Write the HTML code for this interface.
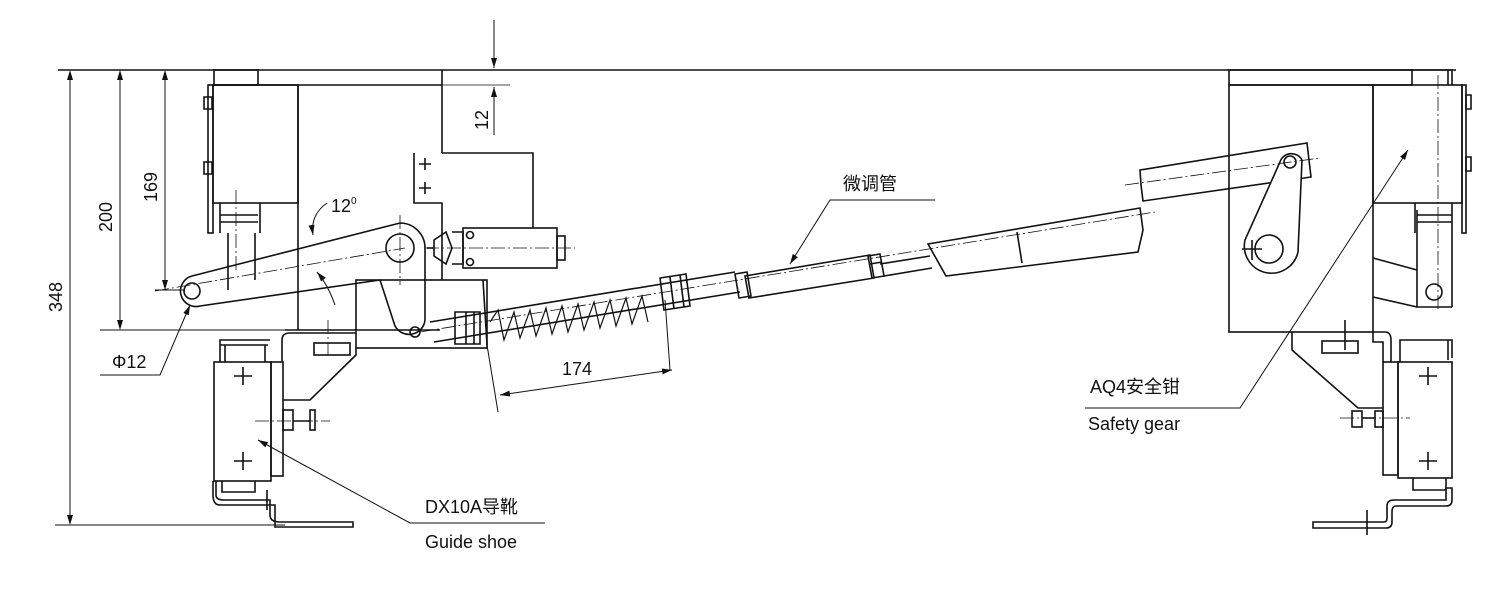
<!DOCTYPE html>
<html><head><meta charset="utf-8"><style>
html,body{margin:0;padding:0;background:#fff;}
svg{display:block;}
text{font-family:"Liberation Sans","Noto Sans CJK SC",sans-serif;fill:#111;}
</style></head><body>
<svg width="1500" height="590" viewBox="0 0 1500 590" xmlns="http://www.w3.org/2000/svg">
<defs><marker id="a" markerWidth="10" markerHeight="6" refX="10" refY="3" orient="auto-start-reverse" markerUnits="userSpaceOnUse"><path d="M0,0L10,3L0,6z" fill="#111"/></marker></defs>
<g fill="none" stroke="#111" stroke-width="1.6">
<line x1="58" y1="70" x2="1456" y2="70" stroke-width="1.4"/>
<line x1="213" y1="85" x2="442" y2="85"/>
<line x1="442" y1="85" x2="510" y2="85" stroke-width="0.8"/>
<rect x="214" y="70" width="44" height="15"/>
<rect x="213" y="85" width="85" height="118"/>
<rect x="208" y="85" width="5" height="148"/>
<path d="M204,97h8v12h-8zM204,162h8v12h-8z"/>
<line x1="442" y1="70" x2="442" y2="153"/>
<path d="M442,153H533V228M414,153V203H442V280"/>
<line x1="298" y1="85" x2="298" y2="330"/>
<path d="M220,203V233M260,203V233M220,215H258M220,222H258M228,233V290M255,233V280"/>
<rect x="463" y="228" width="94" height="40"/>
<rect x="557" y="236" width="8" height="24"/>
<path d="M434,240L440,236L446,232L452,248L446,264L440,260L434,256zM452,232H463V264H452"/>
<circle cx="470" cy="235" r="3.5"/><circle cx="470" cy="262" r="3.5"/>
<path d="M427,248H434" />
<path d="M192,276L400,223A25,25 0 0 1 425,248L425,320A16,16 0 0 1 395,326L380,280L200,306A15,15 0 0 1 192,276Z"/>
<circle cx="192" cy="291" r="8"/>
<circle cx="400" cy="248" r="14"/>
<circle cx="415" cy="332" r="5"/>
<rect x="356" y="280" width="131" height="68"/>
<path d="M483,280L487,345"/>
<path d="M430,322L735,272M434,342L740,292"/>
<path d="M455,312h25v32h-25zM466,312v32M474,312v32"/>
<path d="M490,322l8,-12l6,30l10,-28l6,26l10,-28l6,26l10,-28l6,26l10,-28l6,26l10,-28l6,26l10,-28l6,26l10,-28l6,26l10,-28l6,26l10,-28l6,26" stroke-width="1.2"/>
<path d="M660,278l26,-4l4,32l-26,4zM670,277l4,32M680,275l4,32"/>
<path d="M735,274l12,-2l4,24l-12,2z"/>
<path d="M745,276L870,255L874,278L749,298Z"/>
<path d="M868,256l12,-2l4,22l-12,2zM870,264l12,-2"/>
<path d="M880,264L930,256M884,276L932,268"/>
<path d="M928,244L1140,208L1143,230L1138,252L946,276Z"/>
<line x1="1017" y1="232" x2="1022" y2="263"/>
<rect x="1229" y="70" width="183" height="15"/>
<path d="M1412,70H1452V85M1448,70V85"/>
<rect x="1229" y="85" width="144" height="247"/>
<rect x="1373" y="85" width="89" height="118"/>
<rect x="1462" y="85" width="4" height="148"/>
<path d="M1466,95h5v14h-5zM1466,157h5v14h-5z"/>
<path d="M1415,203V233M1452,203V307M1417,210V307H1452M1417,215H1452M1417,222H1452"/>
<path d="M1373,258L1417,270M1373,297L1417,307"/>
<circle cx="1434" cy="292" r="8"/>
<path d="M1140,170L1307,143L1311,177L1143,201L1141,185Z"/>
<path d="M1280,162A12,12 0 0 1 1302,160L1298,252A26,26 0 1 1 1245,240Z" fill="#fff"/>
<circle cx="1290" cy="162" r="6"/>
<circle cx="1269" cy="249" r="14"/>
<path d="M1292,332V350L1358,408H1383M1373,332V342H1383V362M1373,332H1385Q1391,332 1391,340V362"/>
<rect x="1322" y="341" width="36" height="12"/>
<rect x="1383" y="362" width="15" height="113"/>
<rect x="1398" y="362" width="54" height="116"/>
<path d="M1400,362V340H1448V360M1448,340H1452V358"/>
<rect x="1352" y="411" width="10" height="16"/><rect x="1375" y="411" width="8" height="16"/>
<path d="M1362,418H1375"/>
<path d="M1413,478V490H1446M1446,478V490"/>
<path d="M1452,488V500Q1452,506 1446,506H1396Q1392,506 1392,512V522Q1392,528 1386,528H1313V522H1384Q1387,522 1387,518V506Q1387,500 1394,500H1446V488Z"/>
<path d="M285,330L440,330"/>
<path d="M282,362V340Q282,333 290,333H298M298,333H356"/>
<path d="M356,348V355L310,400H283"/>
<rect x="314" y="343" width="36" height="12"/>
<rect x="214" y="362" width="57" height="119"/>
<rect x="271" y="362" width="12" height="114"/>
<path d="M220,362V340H270M220,345H268M225,345V362M265,345V362"/>
<rect x="283" y="410" width="10" height="20"/><rect x="310" y="410" width="5" height="20"/>
<path d="M293,421H310"/>
<path d="M222,481V492H255V481M216,481V495Q216,500 224,500H270V515Q270,522 280,522H353V527H275V505H220Q213,505 213,495V481"/>
<path d="M243,367v18M234,376h18M243,452v18M234,461h18M1428,367v18M1419,376h18M1428,452v18M1419,461h18M425,158v12M419,164h12M425,182v12M419,188h12M1345,320v30M1252,240v20M1242,249h20M267,490v20M1367,510v25"/>
</g>
<g fill="none" stroke="#111" stroke-width="0.8" stroke-dasharray="14,3,2,3">
<line x1="155" y1="291" x2="405" y2="248"/>
<line x1="400" y1="215" x2="400" y2="285"/>
<line x1="425" y1="248" x2="575" y2="248"/>
<line x1="236" y1="190" x2="236" y2="270"/>
<line x1="420" y1="332" x2="1155" y2="212"/>
<line x1="1125" y1="185" x2="1320" y2="158"/>
<line x1="1438" y1="75" x2="1438" y2="310"/>
<line x1="255" y1="421" x2="330" y2="421"/>
<line x1="1340" y1="418" x2="1410" y2="418"/>
<line x1="328" y1="320" x2="328" y2="355"/>
</g>
<g fill="none" stroke="#111" stroke-width="1">
<line x1="55" y1="525" x2="285" y2="525"/>
<line x1="100" y1="330" x2="300" y2="330"/>
<line x1="155" y1="290" x2="185" y2="290"/>
<line x1="70" y1="72" x2="70" y2="523"/>
<line x1="120" y1="72" x2="120" y2="328"/>
<line x1="165" y1="72" x2="165" y2="288"/>
<line x1="494" y1="20" x2="494" y2="68" marker-end="url(#a)"/>
<line x1="494" y1="135" x2="494" y2="87" marker-end="url(#a)"/>
<line x1="487" y1="345" x2="498" y2="412"/>
<line x1="670" y1="370" x2="665" y2="300"/>
<line x1="500" y1="395" x2="672" y2="370" marker-start="url(#a)" marker-end="url(#a)"/>
<path d="M327,203Q310,215 313,235" marker-end="url(#a)"/>
<path d="M335,305Q328,285 317,272" marker-end="url(#a)"/>
<polyline points="100,375 160,375 190,305" marker-end="url(#a)"/>
<polyline points="935,200 830,200 790,264" marker-end="url(#a)"/>
<polyline points="1085,408 1240,408 1408,150" marker-end="url(#a)"/>
<polyline points="545,523 410,523 258,440" marker-end="url(#a)"/>
</g>
<path d="M70,70l-3,10h6zM70,525l-3,-10h6zM120,70l-3,10h6zM120,330l-3,-10h6zM165,70l-3,10h6zM165,290l-3,-10h6z" fill="#111"/>
<g font-size="18">
<text transform="translate(62,312) rotate(-90)">348</text>
<text transform="translate(112,232) rotate(-90)">200</text>
<text transform="translate(157,202) rotate(-90)">169</text>
<text transform="translate(488,130) rotate(-90)">12</text>
<text x="331" y="212">12<tspan font-size="10" dy="-8">0</tspan></text>
<text x="112" y="368">Φ12</text>
<text x="562" y="375">174</text>
<text x="843" y="190">微调管</text>
<text x="1090" y="393">AQ4安全钳</text>
<text x="1088" y="430">Safety gear</text>
<text x="425" y="513">DX10A导靴</text>
<text x="425" y="548">Guide shoe</text>
</g>
</svg>
</body></html>
